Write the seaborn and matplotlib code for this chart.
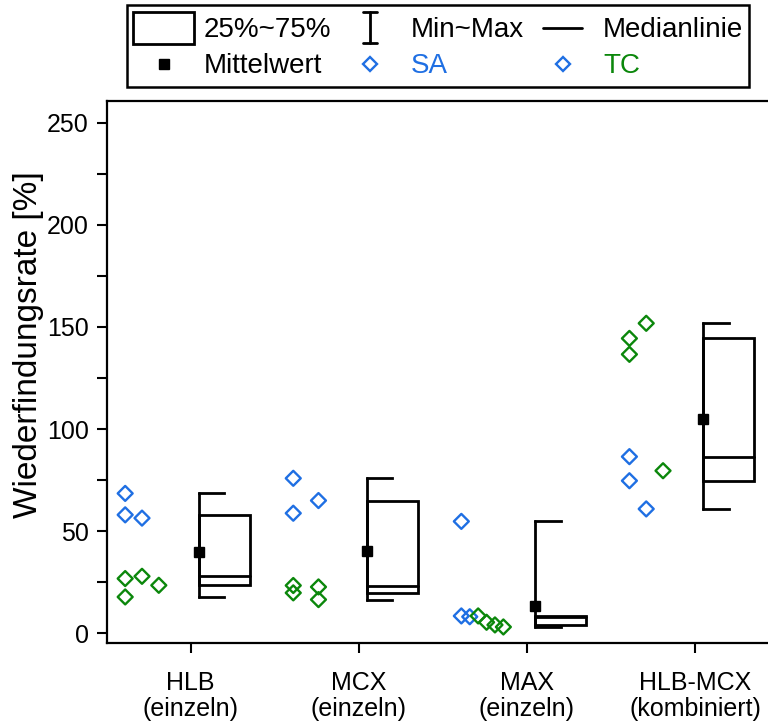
import numpy as np
import pandas as pd
import matplotlib
matplotlib.use("Agg")
import matplotlib.pyplot as plt
from matplotlib.lines import Line2D
from matplotlib.patches import Rectangle
from matplotlib.legend_handler import HandlerBase
from matplotlib.ticker import MultipleLocator
import seaborn as sns

# ---------------------------------------------------------------- data
groups = ["HLB\n(einzeln)", "MCX\n(einzeln)", "MAX\n(einzeln)", "HLB-MCX\n(kombiniert)"]

sa_hlb = [68.5, 58.0, 56.4]
tc_hlb = [26.8, 27.9, 23.5, 17.8]
sa_mcx = [75.9, 65.0, 58.8]
tc_mcx = [23.4, 19.8, 22.7, 16.5]
sa_max = [54.8, 8.5, 8.1]
tc_max = [8.5, 5.4, 4.1, 3.1]
sa_comb = [86.5, 74.7, 60.9]
tc_comb = [151.8, 144.4, 136.6, 79.6]

sa_values = [sa_hlb, sa_mcx, sa_max, sa_comb]
tc_values = [tc_hlb, tc_mcx, tc_max, tc_comb]

# swarm lane of every single point (points are stacked to the left of the box)
sa_lanes = [[0, 0, 2], [0, 3, 0], [0, 0, 1], [0, 0, 2]]
tc_lanes = [[0, 2, 4, 0], [0, 0, 3, 3], [2, 3, 4, 5], [2, 0, 0, 4]]

# ---------------------------------------------------------------- style
SA_COLOR = "#1f6fe3"
TC_COLOR = "#0b870b"
LANE0, LANE_STEP = -0.39, 0.05
BOX_L, BOX_R, CAP_R = 0.05, 0.35, 0.20
LW = 2.0

sns.set_theme(style="ticks")
plt.rcParams["font.family"] = ["Liberation Sans", "DejaVu Sans"]
plt.rcParams.update({
    "axes.linewidth": 1.6,
    "text.color": "black",
    "axes.labelcolor": "black",
    "xtick.color": "black",
    "ytick.color": "black",
    "axes.edgecolor": "black",
})

rows = []
for gi, (sa, tc, la, lt) in enumerate(zip(sa_values, tc_values, sa_lanes, tc_lanes)):
    for v, k in zip(sa, la):
        rows.append({"pos": gi + 1 + LANE0 + LANE_STEP * k, "wert": v, "serie": "SA"})
    for v, k in zip(tc, lt):
        rows.append({"pos": gi + 1 + LANE0 + LANE_STEP * k, "wert": v, "serie": "TC"})
df = pd.DataFrame(rows)

fig = plt.figure(figsize=(7.68, 7.23), dpi=100)
ax = fig.add_axes([106.7 / 768, 1 - 643.3 / 723, (779 - 106.7) / 768, (643.3 - 100.7) / 723])

for serie, col in (("SA", SA_COLOR), ("TC", TC_COLOR)):
    sub = df[df["serie"] == serie]
    sns.scatterplot(data=sub, x="pos", y="wert", marker="D", s=58,
                    facecolors="none", edgecolors=col, linewidth=1.7,
                    ax=ax, legend=False, zorder=3)
for coll in ax.collections:
    coll.set_facecolor("none")
ax.collections[0].set_edgecolor(SA_COLOR)
ax.collections[1].set_edgecolor(TC_COLOR)

# half boxes: box right of centre, whisker on the box's left edge
for gi, (sa, tc) in enumerate(zip(sa_values, tc_values)):
    vals = np.array(sa + tc)
    q1, med, q3 = np.percentile(vals, [25, 50, 75], method="weibull")
    lo, hi, mean = vals.min(), vals.max(), vals.mean()
    c = gi + 1
    xl, xr, xc = c + BOX_L, c + BOX_R, c + CAP_R
    ax.add_patch(Rectangle((xl, q1), xr - xl, q3 - q1, facecolor="none",
                           edgecolor="black", lw=LW, zorder=2))
    ax.plot([xl, xr], [med, med], color="black", lw=LW, zorder=2)
    ax.plot([xl, xl], [lo, hi], color="black", lw=LW, zorder=2)
    ax.plot([xl, xc], [hi, hi], color="black", lw=LW, zorder=2, solid_capstyle="projecting")
    ax.plot([xl, xc], [lo, lo], color="black", lw=LW, zorder=2, solid_capstyle="projecting")
    ax.plot([xl], [mean], marker="s", ms=7.5, color="black", zorder=4)

ax.set_xlim(0.5, 4.5)
ax.set_ylim(-4.9, 260.8)
ax.set_xticks(range(1, len(groups) + 1))
ax.set_xticklabels(groups, fontsize=18, linespacing=1.08)
ax.yaxis.set_major_locator(MultipleLocator(50))
ax.yaxis.set_minor_locator(MultipleLocator(25))
ax.tick_params(axis="y", which="both", direction="out", length=7, width=1.5,
               labelsize=18, pad=6)
ax.tick_params(axis="x", direction="out", length=7, width=1.5, labelsize=18, pad=13)
ax.set_xlabel("")
ax.set_ylabel("Wiederfindungsrate [%]", fontsize=24)
ax.yaxis.set_label_coords(-0.093, 0.55)
for side in ("top", "left", "bottom", "right"):
    ax.spines[side].set_visible(True)
    ax.spines[side].set_linewidth(1.6)
    ax.spines[side].set_color("black")


# ---------------------------------------------------------------- legend
class SymbolHandler(HandlerBase):
    def __init__(self, kind, color="black"):
        super().__init__()
        self.kind = kind
        self.color = color

    def create_artists(self, legend, orig_handle, xdescent, ydescent,
                       width, height, fontsize, trans):
        cx = -xdescent + width / 2
        cy = -ydescent + height / 2
        arts = []
        if self.kind == "box":
            h = fontsize * 1.15
            arts.append(Rectangle((-xdescent, cy - h / 2), width, h, facecolor="none",
                                  edgecolor="black", lw=LW, transform=trans))
        elif self.kind == "range":
            h, w = fontsize * 1.1, fontsize * 0.5
            arts.append(Line2D([cx, cx], [cy - h / 2, cy + h / 2], color="black", lw=LW, transform=trans))
            arts.append(Line2D([cx - w / 2, cx + w / 2], [cy + h / 2] * 2, color="black", lw=LW, transform=trans))
            arts.append(Line2D([cx - w / 2, cx + w / 2], [cy - h / 2] * 2, color="black", lw=LW, transform=trans))
        elif self.kind == "line":
            w = fontsize * 1.4
            arts.append(Line2D([cx - w / 2, cx + w / 2], [cy, cy], color="black", lw=LW, transform=trans))
        elif self.kind == "mean":
            arts.append(Line2D([cx], [cy], marker="s", ms=7.5, color="black", lw=0, transform=trans))
        elif self.kind == "diamond":
            arts.append(Line2D([cx], [cy], marker="D", ms=7.0, mfc="none", mec=self.color,
                               mew=1.7, lw=0, transform=trans))
        return arts


handles = [object() for _ in range(6)]
labels = ["25%~75%", "Mittelwert", "Min~Max", "SA", "Medianlinie", "TC"]
handler_map = {
    handles[0]: SymbolHandler("box"),
    handles[1]: SymbolHandler("mean"),
    handles[2]: SymbolHandler("range"),
    handles[3]: SymbolHandler("diamond", SA_COLOR),
    handles[4]: SymbolHandler("line"),
    handles[5]: SymbolHandler("diamond", SA_COLOR),
}
leg = fig.legend(handles, labels, handler_map=handler_map, ncol=3,
                 loc="upper left", bbox_to_anchor=(127 / 768, 1 - 5 / 723),
                 bbox_transform=fig.transFigure, borderaxespad=0, fontsize=20,
                 frameon=True, fancybox=False, framealpha=1, edgecolor="black",
                 handlelength=2.2, handleheight=1.45, handletextpad=0.35,
                 columnspacing=0.3, labelspacing=0.12, borderpad=0.22)
leg.get_frame().set_linewidth(1.8)
for txt, lab in zip(leg.get_texts(), labels):
    if lab == "SA":
        txt.set_color(SA_COLOR)
    elif lab == "TC":
        txt.set_color(TC_COLOR)

fig.savefig("out.png", dpi=100)
